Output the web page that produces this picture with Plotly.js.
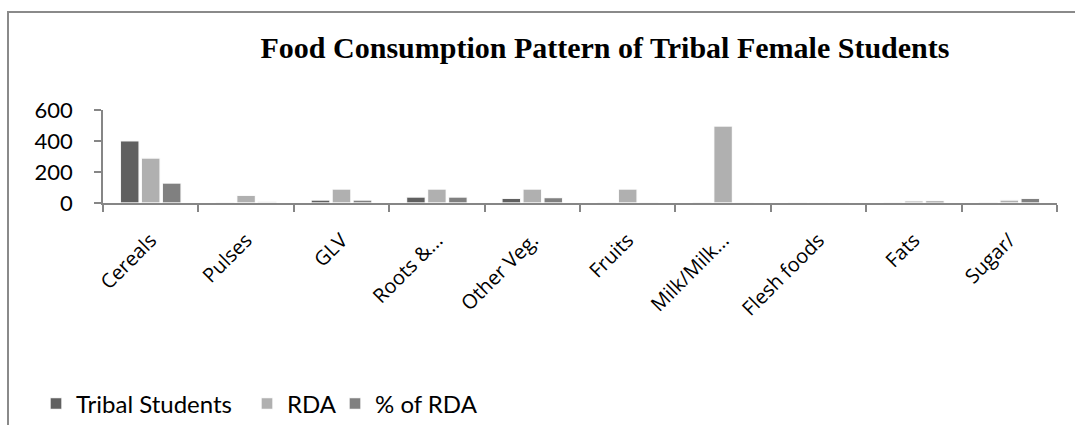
<!DOCTYPE html>
<html>
<head>
<meta charset="utf-8">
<script src="https://cdn.plot.ly/plotly-3.0.1.min.js"></script>
<style>
html,body{margin:0;padding:0;background:#fff;}
#frame{position:absolute;left:7px;top:11px;width:1200px;height:500px;border-left:2px solid #8a8a8a;border-top:2px solid #8a8a8a;}
#chart{position:absolute;left:0;top:0;width:1075px;height:425px;}
</style>
</head>
<body>
<div id="frame"></div>
<div id="chart"></div>
<script>
const categories = ["Cereals","Pulses","GLV","Roots &...","Other Veg.","Fruits","Milk/Milk...","Flesh foods","Fats","Sugar/"];
const tribalStudents = [401, 2, 19, 39, 30, 2, 3, 1, 2, 3];
const rda = [291, 50, 90, 90, 90, 90, 496, 2, 15, 20];
const pctOfRda = [129, 10, 19, 39, 35, 2, 1, 1, 15, 30];
const yTicks = [0, 200, 400, 600];
const seriesNames = ["Tribal Students", "RDA", "% of RDA"];

const colors = ["#606060", "#b0b0b0", "#808080"];
const legendIds = ["legend", "legend2", "legend3"];
const values = [tribalStudents, rda, pctOfRda];
const data = values.map((v, i) => ({
  type: "bar",
  name: seriesNames[i],
  x: categories,
  y: v,
  legend: legendIds[i],
  marker: {color: colors[i], line: {color: "rgba(255,255,255,0.9)", width: 1.5}},
  hoverinfo: "x+y+name"
}));

function legendAt(px) {
  return {
    orientation: "h",
    xref: "container", yref: "container",
    x: px/1075, y: 1 - 404/425, xanchor: "left", yanchor: "middle",
    font: {family: "Lato, Open Sans, sans-serif", size: 24, color: "#000"},
    itemwidth: 30, bgcolor: "rgba(0,0,0,0)"
  };
}

const layout = {
  width: 1075, height: 425,
  paper_bgcolor: "rgba(0,0,0,0)", plot_bgcolor: "rgba(0,0,0,0)",
  margin: {l: 103, r: 18, t: 110, b: 222},
  barmode: "group", bargap: 0.34, bargroupgap: 0.1,
  showlegend: true,
  title: {
    text: "<b>Food Consumption Pattern of Tribal Female Students</b>",
    font: {family: "Liberation Serif, Times New Roman, serif", size: 30, color: "#000"},
    xref: "container", x: 605/1075, xanchor: "center",
    yref: "container", y: 1 - 47/425, yanchor: "middle"
  },
  xaxis: {
    type: "category",
    showline: true, linecolor: "#868686", linewidth: 1.5,
    ticks: "outside", tickson: "boundaries", ticklen: 7, tickcolor: "#868686", tickwidth: 1.5,
    tickangle: -45, ticklabelstandoff: 16,
    tickfont: {family: "Open Sans, sans-serif", size: 20, color: "#000"},
    showgrid: false, zeroline: false
  },
  yaxis: {
    range: [0, 600], tickmode: "array", tickvals: yTicks, ticktext: yTicks.map(String),
    showline: true, linecolor: "#868686", linewidth: 1.5,
    ticks: "outside", ticklen: 24, tickcolor: "rgba(0,0,0,0)", tickwidth: 1.5,
    minor: {tickmode: "array", tickvals: yTicks, ticks: "outside", ticklen: 7, tickcolor: "#868686", tickwidth: 1.5, showgrid: false},
    tickfont: {family: "Lato, Open Sans, sans-serif", size: 22, color: "#000"},
    showgrid: false, zeroline: false
  },
  legend: legendAt(36),
  legend2: legendAt(247),
  legend3: legendAt(335)
};

Plotly.newPlot("chart", data, layout, {displayModeBar: false});
</script>
</body>
</html>
